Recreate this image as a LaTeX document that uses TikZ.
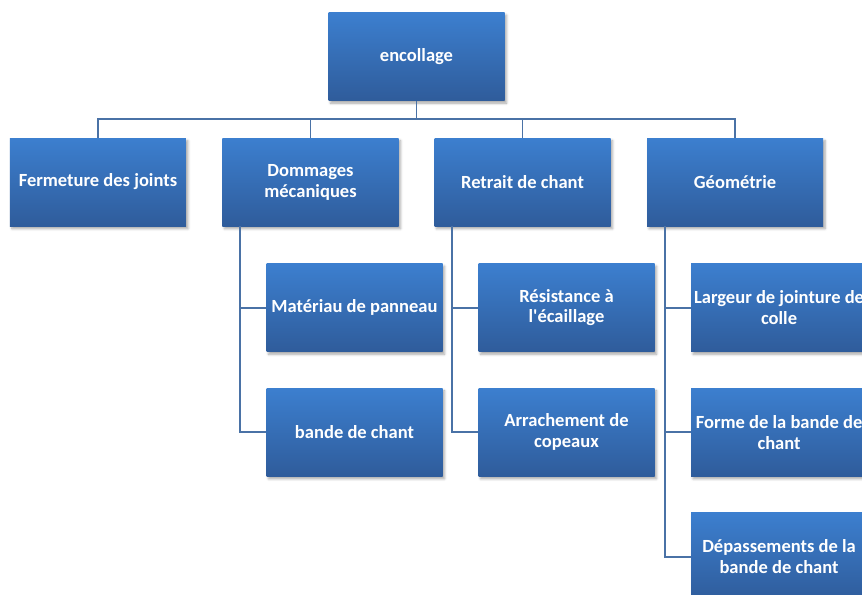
\documentclass[tikz,border=0pt]{standalone}
\usepackage{fontspec}
\setmainfont{Carlito}[Ligatures=TeXOff]
\usetikzlibrary{positioning,shadows.blur}
\definecolor{encTop}{HTML}{3C7FCF}
\definecolor{encBot}{HTML}{2F5C9B}
\definecolor{encLine}{HTML}{4A72A6}
\tikzset{
  card/.style={minimum width=132pt, minimum height=66pt, inner xsep=0pt,
              align=center, top color=encTop, bottom color=encBot,
              text=white, font=\fontsize{13.9}{15.7}\selectfont\bfseries,
              blur shadow={shadow blur steps=5, shadow xshift=1.5pt,
                           shadow yshift=-2pt, shadow opacity=35}},
  link/.style={draw=encLine, line width=1.4pt},
}

\begin{document}
\begin{tikzpicture}[node distance=27.5pt]
  \path[use as bounding box] (-312.375pt,-403.125pt) rectangle (334.125pt,42.375pt);
  \clip (-312.375pt,-403.125pt) rectangle (334.125pt,42.375pt);
  \node[card] (enc) {encollage};
  \node[card,below=27.75pt of enc,xshift=-79.5pt] (dom) {Dommages\\mécaniques};
  \node[card,below=27.75pt of enc,xshift=79.5pt] (ret) {Retrait de chant};
  \node[card,left=27pt of dom] (fer) {Fermeture des joints};
  \node[card,right=27pt of ret] (geo) {Géométrie};
  \node[card,below=27.75pt of dom,xshift=33pt] (mat) {Matériau de panneau};
  \node[card,below=27pt of mat] (bdc) {bande de chant};
  \node[card,below=27.75pt of ret,xshift=33pt] (res) {Résistance à\\l'écaillage};
  \node[card,below=27pt of res] (arr) {Arrachement de\\copeaux};
  \node[card,below=27.75pt of geo,xshift=33pt] (lar) {Largeur de jointure de\\colle};
  \node[card,below=27pt of lar] (frm) {Forme de la bande de\\chant};
  \node[card,below=27pt of frm] (dep) {Dépassements de la\\bande de chant};
  % bus
  \draw[link] (enc.south) -- ++(0,-13.5pt) coordinate (bus);
  \foreach \c in {fer,dom,ret,geo}{\draw[link] (bus) -| (\c.north);}
  % spines
  \foreach \p/\c in {dom/mat,dom/bdc,ret/res,ret/arr,geo/lar,geo/frm,geo/dep}
    {\draw[link] ([xshift=13.5pt]\p.south west) |- (\c.west);}
\end{tikzpicture}
\end{document}
